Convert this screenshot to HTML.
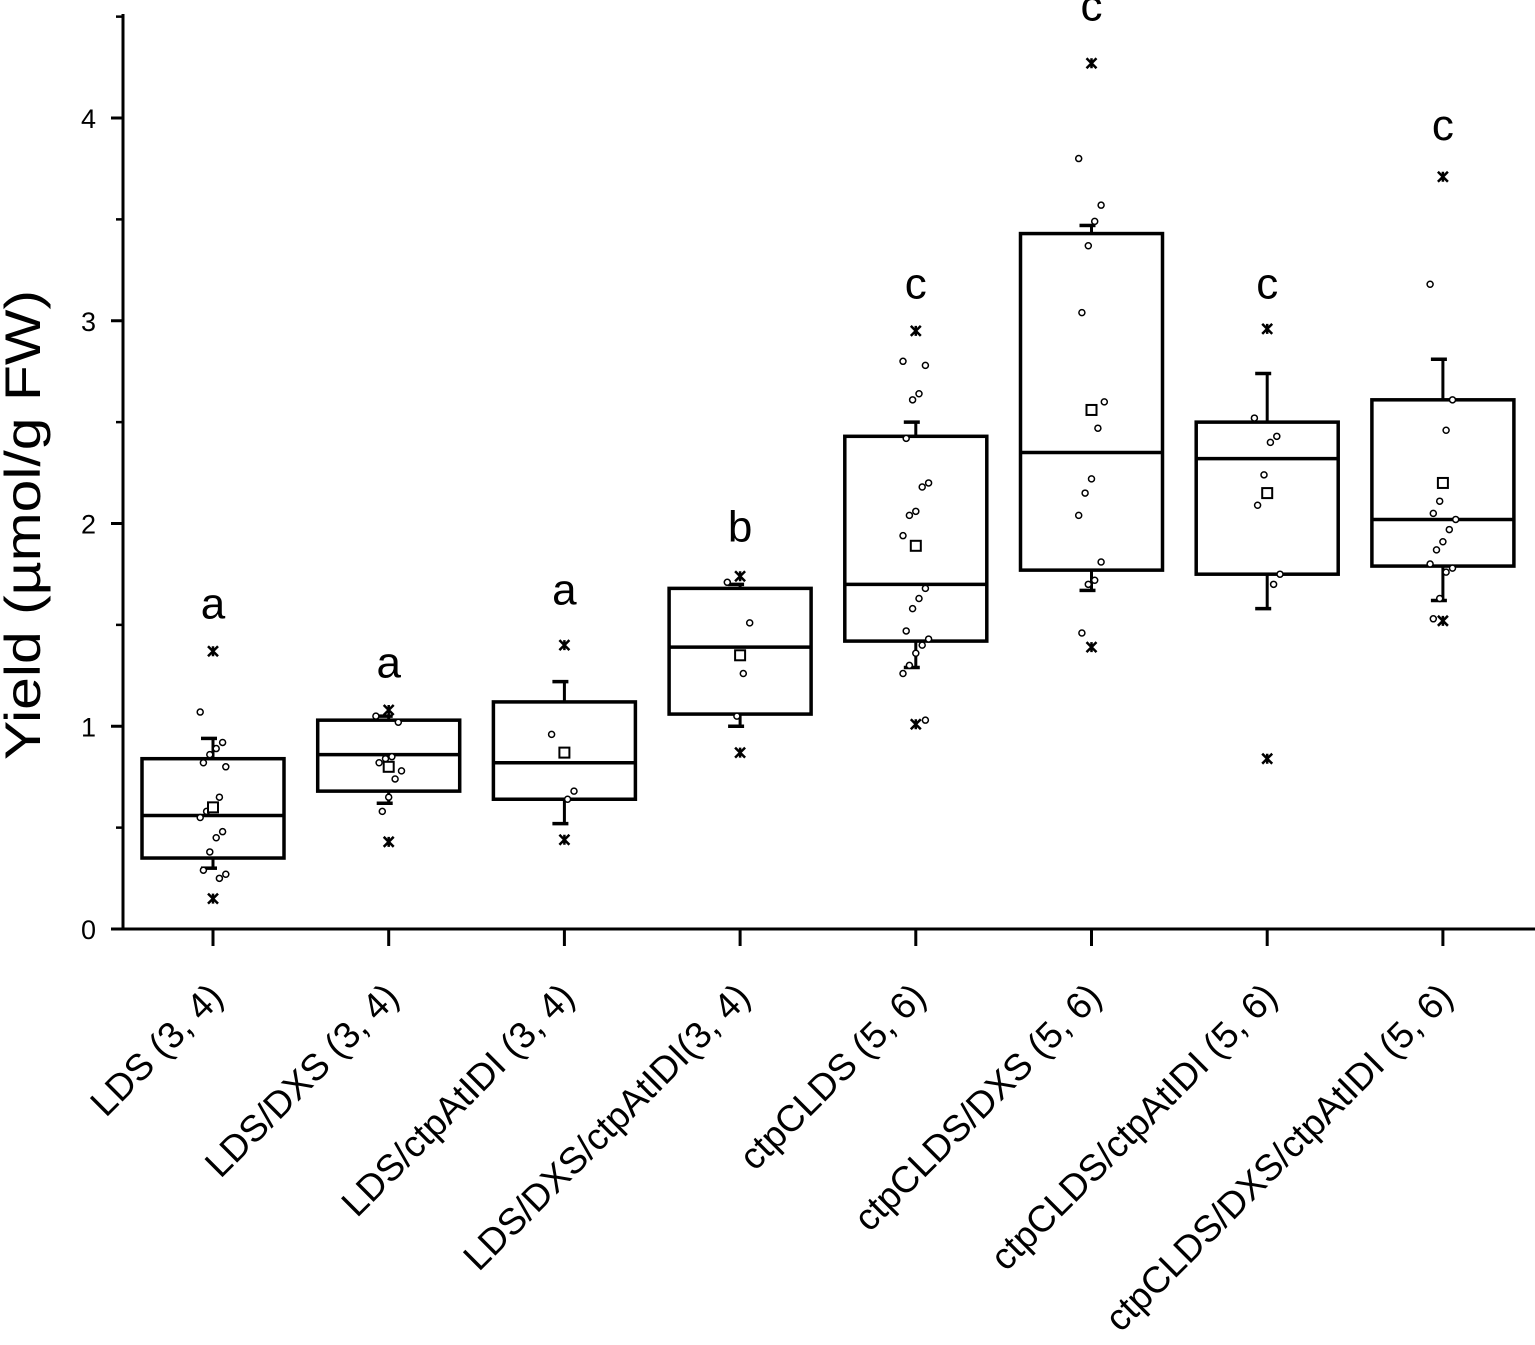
<!DOCTYPE html>
<html><head><meta charset="utf-8"><style>
body{margin:0;background:#fff}
svg{display:block;font-family:"Liberation Sans",Arial,sans-serif}
</style></head><body>
<svg id="chart" width="1535" height="1345" viewBox="0 0 1535 1345" xmlns="http://www.w3.org/2000/svg"></svg>
<script>
const categories = ["LDS (3, 4)","LDS/DXS (3, 4)","LDS/ctpAtIDI (3, 4)","LDS/DXS/ctpAtIDI(3, 4)","ctpCLDS (5, 6)","ctpCLDS/DXS (5, 6)","ctpCLDS/ctpAtIDI (5, 6)","ctpCLDS/DXS/ctpAtIDI (5, 6)"];
const q1 = [0.35,0.68,0.64,1.06,1.42,1.77,1.75,1.79];
const medians = [0.56,0.86,0.82,1.39,1.70,2.35,2.32,2.02];
const q3 = [0.84,1.03,1.12,1.68,2.43,3.43,2.50,2.61];
const whiskerLow = [0.30,0.62,0.52,1.00,1.29,1.67,1.58,1.62];
const whiskerHigh = [0.94,1.05,1.22,1.70,2.50,3.47,2.74,2.81];
const means = [0.60,0.80,0.87,1.35,1.89,2.56,2.15,2.20];
const extremeHigh = [1.37,1.08,1.40,1.74,2.95,4.27,2.96,3.71];
const extremeLow = [0.15,0.43,0.44,0.87,1.01,1.39,0.84,1.52];
const letters = ["a","a","a","b","c","c","c","c"];
const letterY = [1.6,1.31,1.67,1.98,3.18,4.55,3.18,3.96];
const points = [
 [1.07,0.92,0.89,0.86,0.82,0.80,0.65,0.61,0.58,0.55,0.48,0.45,0.38,0.29,0.27,0.25],
 [1.05,1.02,0.85,0.84,0.82,0.78,0.74,0.65,0.58],
 [0.96,0.68,0.64],
 [1.71,1.51,1.26,1.05],
 [2.80,2.78,2.64,2.61,2.42,2.20,2.18,2.06,2.04,1.94,1.68,1.63,1.58,1.47,1.43,1.40,1.36,1.30,1.26,1.03],
 [3.80,3.57,3.49,3.37,3.04,2.60,2.47,2.22,2.15,2.04,1.81,1.72,1.70,1.46],
 [2.52,2.43,2.40,2.24,2.09,1.75,1.70],
 [3.18,2.61,2.46,2.11,2.05,2.02,1.97,1.91,1.87,1.80,1.78,1.76,1.63,1.53]
];
const yTicks = [0,1,2,3,4];
const yMinorTicks = [0.5,1.5,2.5,3.5,4.5];

const NS="http://www.w3.org/2000/svg";
const svg=document.getElementById('chart');
const y0=929, pxPerUnit=202.75, xLeft=123;
const Y=v=>y0-v*pxPerUnit;
const X=i=>213+i*175.7;
function el(tag,attrs,parent){const e=document.createElementNS(NS,tag);for(const k in attrs)e.setAttribute(k,attrs[k]);(parent||svg).appendChild(e);return e;}

const ya=el('line',{x1:xLeft,y1:Y(0)+1,x2:xLeft,y2:14,stroke:'#000','stroke-width':3});


const xa=el('line',{x1:xLeft-1,y1:Y(0),x2:1535,y2:Y(0),stroke:'#000','stroke-width':3});



yTicks.forEach(v=>{
 const t=el('line',{x1:xLeft-12,y1:Y(v),x2:xLeft,y2:Y(v),stroke:'#000','stroke-width':3});
 
 
 const l=el('text',{x:96,y:Y(v)+10,'text-anchor':'end','font-size':27,fill:'#000'});
 l.textContent=v;
 
 
});
yMinorTicks.forEach(v=>{
 const t=el('line',{x1:xLeft-7,y1:Y(v),x2:xLeft,y2:Y(v),stroke:'#000','stroke-width':2.5});
 
 
});
const yt=el('text',{x:0,y:0,'text-anchor':'middle','font-size':50,fill:'#000',textLength:470,lengthAdjust:'spacingAndGlyphs',transform:'translate(40,525) rotate(-90)'});
yt.textContent='Yield (\u00b5mol/g FW)';



const hw=71;
categories.forEach((c,i)=>{
 const cx=X(i);
 const g=el('g',{});
 
 
 const tk=el('line',{x1:cx,y1:Y(0),x2:cx,y2:Y(0)+17,stroke:'#000','stroke-width':3},g);
 
 
 const lb=el('text',{x:0,y:0,'text-anchor':'end','font-size':37,fill:'#000',transform:`translate(${cx+12},${Y(0)+70}) rotate(-45)`},g);
 lb.textContent=c;
 
 
 const w1=el('line',{x1:cx,y1:Y(q3[i]),x2:cx,y2:Y(whiskerHigh[i]),stroke:'#000','stroke-width':3},g);
 
 
 const c1=el('line',{x1:cx-12,y1:Y(whiskerHigh[i]),x2:cx+4,y2:Y(whiskerHigh[i]),stroke:'#000','stroke-width':3.5},g);
 
 
 const w2=el('line',{x1:cx,y1:Y(q1[i]),x2:cx,y2:Y(whiskerLow[i]),stroke:'#000','stroke-width':3},g);
 
 
 const c2=el('line',{x1:cx-12,y1:Y(whiskerLow[i]),x2:cx+4,y2:Y(whiskerLow[i]),stroke:'#000','stroke-width':3.5},g);
 
 
 const b=el('rect',{x:cx-hw,y:Y(q3[i]),width:2*hw,height:Y(q1[i])-Y(q3[i]),fill:'none',stroke:'#000','stroke-width':3.5},g);
 
 
 const m=el('line',{x1:cx-hw,y1:Y(medians[i]),x2:cx+hw,y2:Y(medians[i]),stroke:'#000','stroke-width':3.5},g);
 
 
 points[i].forEach((v,j)=>{
  const off=((j*7)%9-4)*3.2;
  const p=el('circle',{cx:cx+off,cy:Y(v),r:3,fill:'#fff',stroke:'#000','stroke-width':1.5},g);
  
  
 });
 const mn=el('rect',{x:cx-5,y:Y(means[i])-5,width:10,height:10,fill:'#fff',stroke:'#000','stroke-width':2},g);
 
 
 [extremeHigh[i],extremeLow[i]].forEach(v=>{
  const x=el('path',{d:`M${cx-5},${Y(v)-5}L${cx+5},${Y(v)+5}M${cx+5},${Y(v)-5}L${cx-5},${Y(v)+5}M${cx},${Y(v)-5}L${cx},${Y(v)+5}`,stroke:'#000','stroke-width':2.5,fill:'none'},g);
  
  
 });
 const lt=el('text',{x:cx,y:Y(letterY[i])+14,'text-anchor':'middle','font-size':44,fill:'#000'},g);
 lt.textContent=letters[i];
 
 
});
</script>
</body></html>
